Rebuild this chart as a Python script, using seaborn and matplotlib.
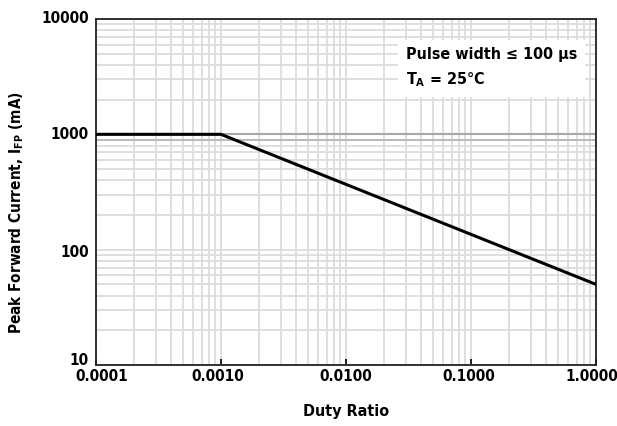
import matplotlib
matplotlib.use("Agg")
import matplotlib.pyplot as plt
import seaborn as sns
import pandas as pd
from matplotlib.ticker import FixedLocator, LogLocator, NullFormatter
from matplotlib.transforms import ScaledTranslation

duty_ratio = [0.0001, 0.001, 1.0]
peak_current = [1000, 1000, 50]
x_ticks = [0.0001, 0.001, 0.01, 0.1, 1.0]
x_labels = ["0.0001", "0.0010", "0.0100", "0.1000", "1.0000"]
y_ticks = [10, 100, 1000, 10000]
y_labels = ["10", "100", "1000", "10000"]

sns.set_style("white")
plt.rcParams['font.family'] = ['DejaVu Sans']
plt.rcParams['font.stretch'] = 'condensed'
plt.rcParams['text.color'] = 'black'
plt.rcParams['axes.labelcolor'] = 'black'
plt.rcParams['xtick.color'] = 'black'
plt.rcParams['ytick.color'] = 'black'

fig = plt.figure(figsize=(6.17, 4.26), dpi=100)
ax = fig.add_axes([96/617, 61/426, 500/617, 346/426])

df = pd.DataFrame({"duty": duty_ratio, "current": peak_current})
ax.set_xscale("log")
ax.set_yscale("log")
ax.set_xlim(1e-4, 1.0)
ax.set_ylim(10, 10000)

ax.xaxis.set_minor_locator(LogLocator(base=10, subs=range(2, 10)))
ax.yaxis.set_minor_locator(LogLocator(base=10, subs=range(2, 10)))
ax.xaxis.set_minor_formatter(NullFormatter())
ax.yaxis.set_minor_formatter(NullFormatter())
ax.grid(True, which="both", color="#dcdcdc", linewidth=1.3)
ax.axhline(1000, color="#a8a8a8", linewidth=1.5, zorder=1.5)
ax.axhline(900, color="#b8b8b8", linewidth=1.3, zorder=1.5)

sns.lineplot(data=df, x="duty", y="current", ax=ax, color="black", linewidth=2.2, zorder=3)

ax.xaxis.set_major_locator(FixedLocator(x_ticks))
ax.set_xticklabels(x_labels, fontsize=11, fontweight="bold", stretch="condensed")
ax.yaxis.set_major_locator(FixedLocator(y_ticks))
ax.set_yticklabels(y_labels, fontsize=11, fontweight="bold", stretch="condensed")
ax.tick_params(axis="x", which="major", direction="in", length=4, width=1.2, pad=3, bottom=True)
ax.tick_params(axis="x", which="minor", length=0)
ax.tick_params(axis="y", which="both", length=0, pad=5)

for s in ax.spines.values():
    s.set_color("#222222")
    s.set_linewidth(1.3)

ax.set_xlabel("Duty Ratio", fontsize=11.5, fontweight="bold", labelpad=14, stretch="condensed")
ax.set_ylabel(r"Peak Forward Current, I$_{\mathbf{FP}}$ (mA)", fontsize=11, fontweight="bold", stretch="condensed")
ax.yaxis.set_label_coords(-0.14, 0.44)

ax.text(0.62, 0.92, "Pulse width \u2264 100 \u00b5s\n" + r"T$_{\mathbf{A}}$ = 25°C",
        transform=ax.transAxes, fontsize=11.5, fontweight="bold", va="top", ha="left",
        linespacing=1.6, stretch="condensed",
        bbox=dict(boxstyle="square,pad=0.5", facecolor="white", edgecolor="none"), zorder=4)

# small label offsets as in the reference
px = 72.0 / fig.dpi
xt = ax.get_xticklabels()
xshift = [6, -3, 0, -2, -4]
for lab, dx in zip(xt, xshift):
    lab.set_transform(lab.get_transform() + ScaledTranslation(dx * px / 72, 0, fig.dpi_scale_trans))
yt = ax.get_yticklabels()
yshift = [6, -1, 1, 2]
for lab, dy in zip(yt, yshift):
    lab.set_transform(lab.get_transform() + ScaledTranslation(0, dy * px / 72, fig.dpi_scale_trans))

fig.savefig("out.png", dpi=100)
